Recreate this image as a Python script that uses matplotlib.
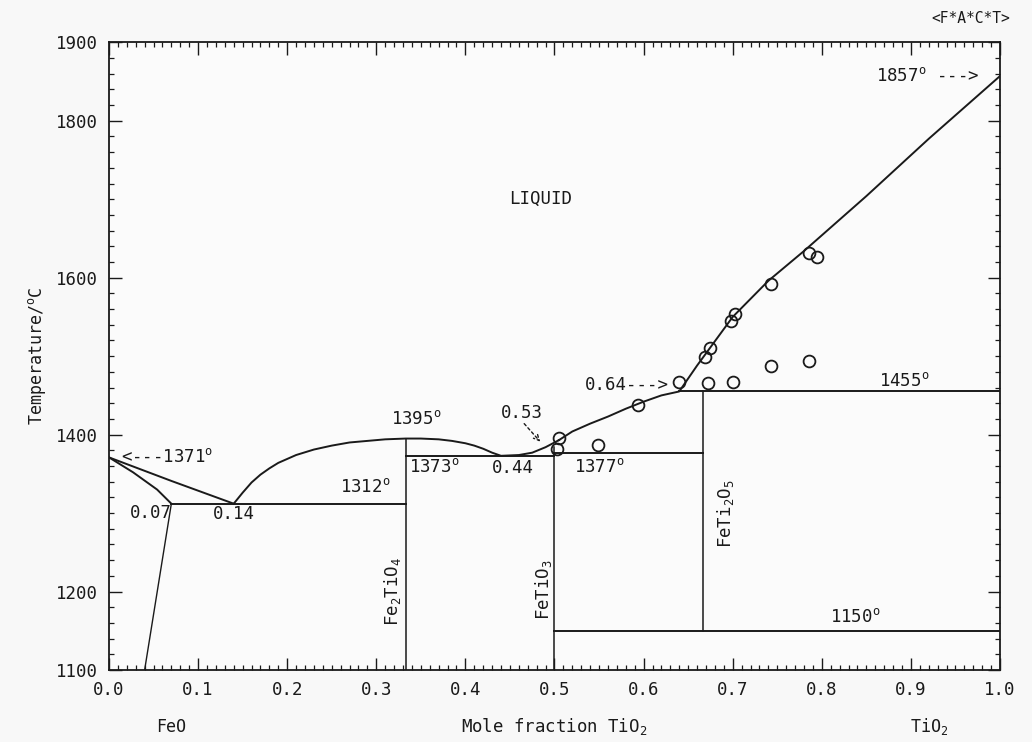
import numpy as np
import matplotlib
matplotlib.use('Agg')
import matplotlib.pyplot as plt
from matplotlib.ticker import MultipleLocator, FixedLocator

# 字体：等宽，模仿绘图仪字体
plt.rcParams['font.family'] = ['DejaVu Sans Mono']
plt.rcParams['mathtext.fontset'] = 'custom'
plt.rcParams['mathtext.rm'] = 'DejaVu Sans Mono'
plt.rcParams['mathtext.it'] = 'DejaVu Sans Mono'

# FeO-TiO2 相图数据
# 液相线 FeO 侧
liq_feo_x = [0.0, 0.07, 0.14]
liq_feo_t = [1371, 1341, 1312]
# FeO 固溶体边界
sol_feo_x = [0.0, 0.027, 0.054, 0.07]
sol_feo_t = [1371, 1352, 1330, 1312]
solvus_x = [0.07, 0.04]
solvus_t = [1312, 1100]
# Fe2TiO4 穹顶 + 到 FeTiO3
dome_x = [0.14, 0.15, 0.16, 0.17, 0.18, 0.19, 0.21, 0.23, 0.25, 0.27, 0.29, 0.31, 0.333,
          0.35, 0.37, 0.385, 0.40, 0.41, 0.42, 0.43, 0.44, 0.46, 0.475, 0.49, 0.505]
dome_t = [1312, 1326, 1339, 1349, 1357, 1364, 1374, 1381, 1386, 1390, 1392, 1394, 1395,
          1395, 1394, 1392, 1389, 1386, 1382, 1377, 1373, 1374, 1377, 1384, 1393]
# 高 TiO2 侧液相线
liq_ti_x = [0.505, 0.52, 0.54, 0.56, 0.58, 0.60, 0.62, 0.64, 0.66, 0.70, 0.74, 0.78, 0.85, 0.92, 1.0]
liq_ti_t = [1393, 1404, 1414, 1423, 1433, 1442, 1450, 1455, 1488, 1550, 1596, 1634, 1704, 1777, 1857]

# 等温线 (x起, x止, 温度)
iso_x0 = [0.07, 0.333, 0.5, 0.64, 0.5]
iso_x1 = [0.333, 0.5, 0.667, 1.0, 1.0]
iso_t = [1312, 1373, 1377, 1455, 1150]

# 化合物竖线
comp_x = [0.333, 0.5, 0.667]
comp_t0 = [1100, 1100, 1150]
comp_t1 = [1395, 1384, 1455]

# 实验点
exp_x = [0.505, 0.503, 0.549, 0.594, 0.640, 0.669, 0.675, 0.672, 0.698, 0.703, 0.700,
         0.743, 0.743, 0.786, 0.795, 0.786]
exp_t = [1396, 1382, 1387, 1438, 1467, 1499, 1511, 1466, 1545, 1554, 1467,
         1592, 1488, 1632, 1627, 1494]

xtick_vals = [0.0, 0.1, 0.2, 0.3, 0.4, 0.5, 0.6, 0.7, 0.8, 0.9, 1.0]
ytick_vals = [1100, 1200, 1400, 1600, 1800, 1900]

fig = plt.figure(figsize=(10.32, 7.42), dpi=100)
fig.patch.set_facecolor('#f8f8f8')
ax = fig.add_axes([0.1056, 0.097, 0.8634, 0.846])
ax.set_facecolor('#fbfbfb')

lc = '#1a1a1a'
lw = 1.4
ax.plot(liq_feo_x, liq_feo_t, color=lc, lw=lw)
ax.plot(sol_feo_x, sol_feo_t, color=lc, lw=lw)
ax.plot(solvus_x, solvus_t, color=lc, lw=1.0)
ax.plot(dome_x, dome_t, color=lc, lw=lw)
ax.plot(liq_ti_x, liq_ti_t, color=lc, lw=lw)
for x0, x1, t in zip(iso_x0, iso_x1, iso_t):
    ax.plot([x0, x1], [t, t], color=lc, lw=lw)
for x, t0, t1 in zip(comp_x, comp_t0, comp_t1):
    ax.plot([x, x], [t0, t1], color=lc, lw=1.1)
ax.plot(exp_x, exp_t, 'o', ms=8.5, mfc='none', mec=lc, mew=1.3)

ax.set_xlim(0, 1)
ax.set_ylim(1100, 1900)

# 刻度
ax.xaxis.set_major_locator(FixedLocator(xtick_vals))
ax.set_xticklabels(['%.1f' % v for v in xtick_vals])
ax.xaxis.set_minor_locator(MultipleLocator(0.01))
ax.yaxis.set_major_locator(FixedLocator(ytick_vals))
ax.set_yticklabels([str(v) for v in ytick_vals])
ax.yaxis.set_minor_locator(MultipleLocator(20))
ax.tick_params(which='major', direction='in', length=9, width=1.0, top=True, right=True,
               labelsize=12.5, colors=lc, pad=8)
ax.tick_params(which='minor', direction='in', length=3.5, width=0.9, top=True, right=True, colors=lc)
for s in ax.spines.values():
    s.set_linewidth(1.3)
    s.set_color(lc)

fs = 12.5
deg = r'$^{\mathrm{o}}$'
ax.text(0.013, 1371, '<---1371' + deg, fontsize=fs, va='center', ha='left', color=lc)
ax.text(0.071, 1300, '0.07', fontsize=fs, va='center', ha='right', color=lc)
ax.text(0.14, 1299, '0.14', fontsize=fs, va='center', ha='center', color=lc)
ax.text(0.288, 1333, '1312' + deg, fontsize=fs, va='center', ha='center', color=lc)
ax.text(0.345, 1420, '1395' + deg, fontsize=fs, va='center', ha='center', color=lc)
ax.text(0.365, 1359, '1373' + deg, fontsize=fs, va='center', ha='center', color=lc)
ax.text(0.453, 1358, '0.44', fontsize=fs, va='center', ha='center', color=lc)
ax.text(0.463, 1427, '0.53', fontsize=fs, va='center', ha='center', color=lc)
ax.annotate('', xy=(0.484, 1391), xytext=(0.466, 1414),
            arrowprops=dict(arrowstyle='->', linestyle=(0, (2, 2)), color=lc, lw=1.0,
                            shrinkA=0, shrinkB=0))
ax.text(0.55, 1359, '1377' + deg, fontsize=fs, va='center', ha='center', color=lc)
ax.text(0.628, 1463, '0.64--->', fontsize=fs, va='center', ha='right', color=lc)
ax.text(0.893, 1468, '1455' + deg, fontsize=fs, va='center', ha='center', color=lc)
ax.text(0.838, 1167, '1150' + deg, fontsize=fs, va='center', ha='center', color=lc)
ax.text(0.977, 1857, '1857' + deg + ' --->', fontsize=fs, va='center', ha='right', color=lc)
ax.text(0.484, 1700, 'LIQUID', fontsize=fs, va='center', ha='center', color=lc)

ax.text(0.318, 1200, r'Fe$_2$TiO$_4$', fontsize=fs, rotation=90, va='center', ha='center', color=lc)
ax.text(0.488, 1203, r'FeTiO$_3$', fontsize=fs, rotation=90, va='center', ha='center', color=lc)
ax.text(0.692, 1300, r'FeTi$_2$O$_5$', fontsize=fs, rotation=90, va='center', ha='center', color=lc)

# 坐标轴标题
ax.set_ylabel(r'Temperature/$^{\mathrm{o}}$C', fontsize=12, color=lc, labelpad=6)
ax.text(0.07, -0.09, 'FeO', transform=ax.transAxes, fontsize=12, ha='center', va='center', color=lc)
ax.text(0.5, -0.09, r'Mole fraction TiO$_2$', transform=ax.transAxes, fontsize=12.5,
        ha='center', va='center', color=lc)
ax.text(0.92, -0.09, r'TiO$_2$', transform=ax.transAxes, fontsize=12, ha='center', va='center', color=lc)
fig.text(0.979, 0.975, '<F*A*C*T>', fontsize=10.5, ha='right', va='center', color=lc)

fig.savefig('out.png', dpi=100, facecolor=fig.get_facecolor())
